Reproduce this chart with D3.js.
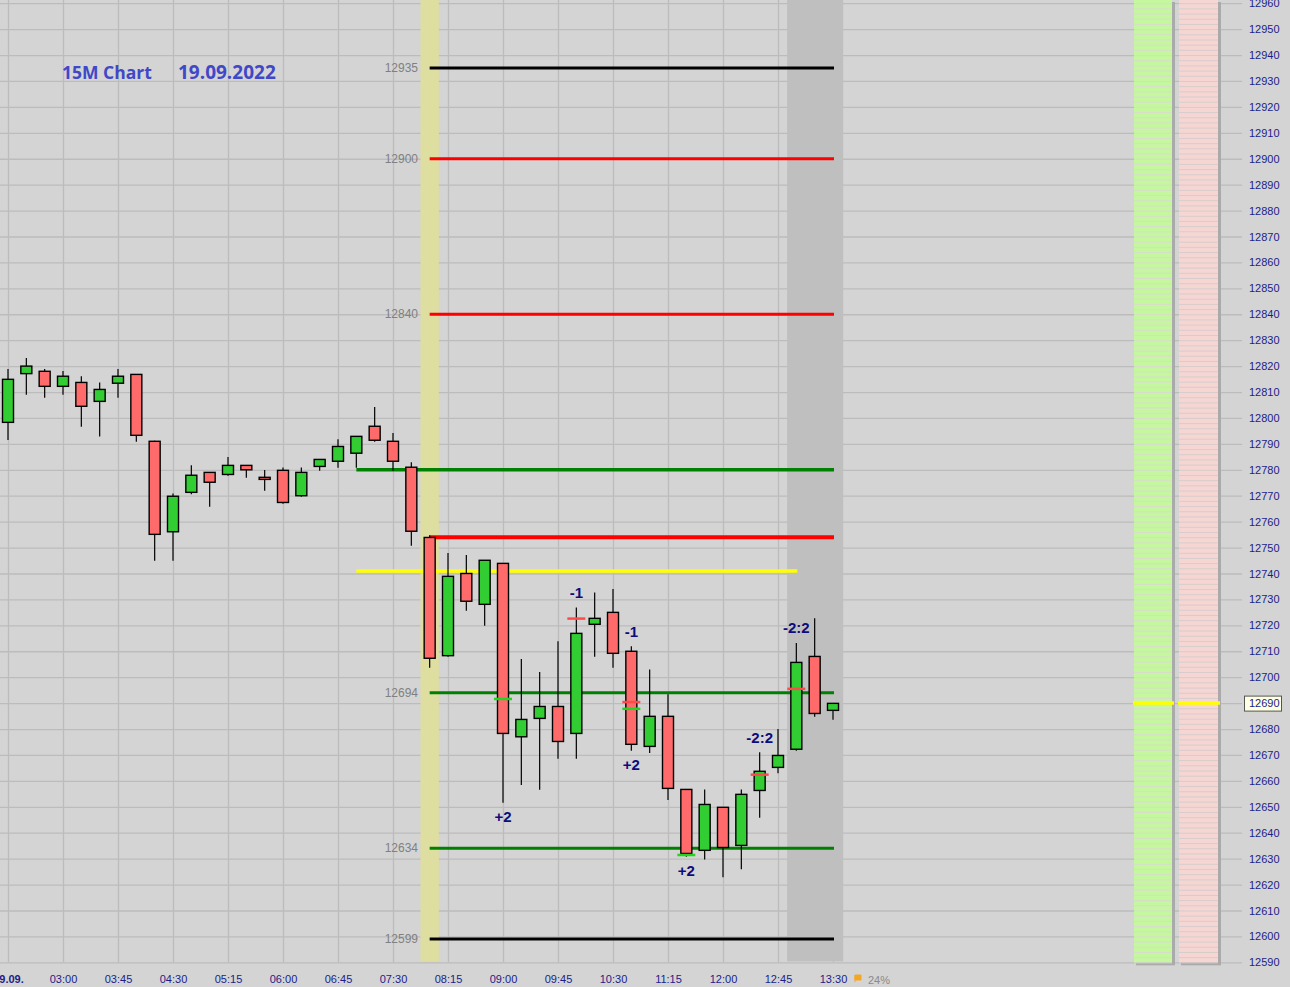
<!DOCTYPE html>
<html>
<head>
<meta charset="utf-8">
<script src="https://cdn.jsdelivr.net/npm/d3@7"></script>
<style>
  body { margin: 0; background: #d4d4d4; }
  svg { display: block; font-family: "Liberation Sans", Arial, sans-serif; }
</style>
</head>
<body>
<svg id="chart" width="1290" height="987"></svg>
<script>
// 15 minute candles, 19.09.2022
const times = ["02:15","02:30","02:45","03:00","03:15","03:30","03:45","04:00","04:15","04:30",
  "04:45","05:00","05:15","05:30","05:45","06:00","06:15","06:30","06:45","07:00",
  "07:15","07:30","07:45","08:00","08:15","08:30","08:45","09:00","09:15","09:30",
  "09:45","10:00","10:15","10:30","10:45","11:00","11:15","11:30","11:45","12:00",
  "12:15","12:30","12:45","13:00","13:15","13:30"];
const opens = [12798.3,12817.1,12818.0,12812.2,12813.7,12806.4,12813.4,12816.8,12791.0,12756.1,
  12771.3,12779.0,12778.2,12781.7,12777.1,12779.8,12770.0,12781.3,12783.3,12786.4,
  12796.8,12791.0,12781.0,12753.9,12708.3,12740.0,12728.1,12743.9,12677.0,12684.1,
  12688.7,12678.3,12720.4,12725.0,12710.0,12673.3,12684.9,12656.7,12633.2,12649.8,
  12635.1,12656.3,12665.2,12672.2,12708.0,12687.2];
const highs = [12818.9,12823.1,12818.9,12818.1,12816.1,12813.7,12818.9,12817.0,12791.2,12770.9,
  12781.8,12779.0,12784.9,12781.7,12779.9,12780.9,12780.9,12784.0,12791.8,12792.9,
  12804.2,12794.2,12782.9,12754.8,12747.9,12747.1,12745.1,12743.9,12707.0,12702.0,
  12713.9,12726.9,12732.7,12734.0,12711.9,12703.0,12693.4,12656.7,12656.7,12649.8,
  12656.7,12671.0,12680.0,12713.2,12722.7,12689.9];
const lows = [12791.5,12809.0,12807.8,12809.0,12796.6,12792.8,12807.8,12790.8,12744.9,12744.9,
  12770.6,12765.7,12777.7,12776.9,12771.9,12766.9,12769.6,12779.6,12780.8,12780.8,
  12790.8,12779.6,12750.7,12703.6,12707.9,12725.6,12719.8,12651.6,12658.4,12656.6,
  12668.5,12668.5,12707.9,12703.6,12671.6,12670.8,12652.6,12630.7,12629.7,12622.8,
  12625.9,12645.8,12662.9,12671.6,12684.7,12683.6];
const closes = [12814.9,12820.0,12812.2,12816.1,12804.5,12811.0,12816.1,12793.3,12755.1,12769.8,
  12777.9,12775.2,12781.7,12780.0,12776.3,12767.4,12779.0,12784.0,12789.0,12792.9,
  12791.4,12783.3,12756.3,12707.3,12738.9,12729.3,12745.1,12678.3,12683.7,12688.7,
  12675.2,12716.9,12722.7,12709.2,12674.1,12684.9,12657.1,12632.0,12650.9,12634.3,
  12654.8,12663.7,12669.8,12705.7,12686.0,12689.9];

// horizontal levels: price, colour, first and last candle, labelled or not
const levelPrices = [12935, 12900, 12840, 12780, 12754, 12741, 12694, 12634, 12599];
const levelColors = ["#000000","#ff0000","#ff0000","#008000","#ff0000","#ffff00","#008000","#008000","#000000"];
const levelFrom   = ["08:00","08:00","08:00","07:00","08:00","07:00","08:00","08:00","08:00"];
const levelTo     = ["13:30","13:30","13:30","13:30","13:30","13:00","13:30","13:30","13:30"];
const levelWidth  = [3, 3, 3, 3.5, 4, 3.5, 3, 3, 3];
const levelLabel  = [true, true, true, false, false, false, true, true, true];

// small entry marks on candles
const markTimes  = ["09:00","10:00","10:45","10:45","11:30","12:30","13:00"];
const markPrices = [12691.6, 12722.6, 12690.4, 12687.8, 12631.4, 12662.4, 12695.5];
const markColors = ["#22d422","#ff4a4a","#ff4a4a","#22d422","#22d422","#ff4a4a","#ff4a4a"];

// signal texts
const noteTimes = ["09:00","10:00","10:45","10:45","11:30","12:30","13:00"];
const noteTexts = ["+2","-1","-1","+2","+2","-2:2","-2:2"];
const noteSides = ["below","above","above","below","below","above","above"];

const priceTicks = [12590,12600,12610,12620,12630,12640,12650,12660,12670,12680,12690,12700,
  12710,12720,12730,12740,12750,12760,12770,12780,12790,12800,12810,12820,12830,12840,
  12850,12860,12870,12880,12890,12900,12910,12920,12930,12940,12950,12960];
const timeTicks = ["02:15","03:00","03:45","04:30","05:15","06:00","06:45","07:30","08:15",
  "09:00","09:45","10:30","11:15","12:00","12:45","13:30"];
const lastPrice = 12690;
const highlightTime = "08:00";
const sessionStart = "13:00";

const svg = d3.select("#chart");
const W = 1290, H = 987;
const x = d3.scalePoint().domain(times).range([8, 833]);
const y = d3.scaleLinear().domain([12599, 12935]).range([939, 68]);
const step = x.step();
const bottom = y(12590);
const axisX = 1242;

svg.append("rect").attr("width", W).attr("height", H).attr("fill", "#d4d4d4");

// horizontal grid
const hg = svg.append("g")
  .attr("transform", `translate(${axisX},0)`)
  .call(d3.axisLeft(y).tickValues(priceTicks).tickSize(axisX).tickFormat(""));
hg.select(".domain").remove();
hg.selectAll("line").attr("stroke", "#bcbcbc").attr("stroke-width", 1.3);

// vertical grid + time labels
const xg = svg.append("g")
  .attr("transform", `translate(0,${bottom})`)
  .call(d3.axisBottom(x).tickValues(timeTicks).tickSizeInner(-bottom).tickSizeOuter(0).tickPadding(13)
    .tickFormat(d => d === "02:15" ? "19.09." : d));
xg.select(".domain").remove();
xg.selectAll("line").attr("stroke", "#bcbcbc").attr("stroke-width", 1.3);
xg.selectAll("text").attr("fill", "#1c1c8a").attr("font-size", 11)
  .attr("font-family", "'Liberation Sans', Arial, sans-serif")
  .attr("font-weight", d => d === "02:15" ? "bold" : null);

// shaded bands
svg.append("rect")
  .attr("x", x(highlightTime) - step / 2).attr("y", 0)
  .attr("width", step).attr("height", bottom - 1)
  .attr("fill", "#dedea0");
svg.append("rect")
  .attr("x", x(sessionStart) - step / 2).attr("y", 0)
  .attr("width", x(times[times.length - 1]) - x(sessionStart) + step + 1).attr("height", bottom - 1)
  .attr("fill", "#bfbfbf");

// levels
const levels = levelPrices.map((p, i) => ({
  price: p, color: levelColors[i], from: levelFrom[i], to: levelTo[i],
  width: levelWidth[i], label: levelLabel[i]
}));
svg.append("g").selectAll("line").data(levels).enter().append("line")
  .attr("x1", d => x(d.from)).attr("x2", d => x(d.to) + 1)
  .attr("y1", d => y(d.price)).attr("y2", d => y(d.price))
  .attr("stroke", d => d.color).attr("stroke-width", d => d.width);
svg.append("g").selectAll("text").data(levels.filter(d => d.label)).enter().append("text")
  .attr("x", 418).attr("y", d => y(d.price))
  .attr("text-anchor", "end").attr("dominant-baseline", "central")
  .attr("font-size", 12).attr("fill", "#808080")
  .text(d => d.price);

// candles
const candles = times.map((t, i) => ({ t, o: opens[i], h: highs[i], l: lows[i], c: closes[i] }));
const cg = svg.append("g");
cg.selectAll(".wick").data(candles).enter().append("line")
  .attr("class", "wick")
  .attr("x1", d => x(d.t)).attr("x2", d => x(d.t))
  .attr("y1", d => y(d.h)).attr("y2", d => y(d.l))
  .attr("stroke", "#000").attr("stroke-width", 1.2);
cg.selectAll(".body").data(candles).enter().append("rect")
  .attr("class", "body")
  .attr("x", d => x(d.t) - 5.5).attr("width", 11)
  .attr("y", d => y(Math.max(d.o, d.c)))
  .attr("height", d => Math.max(1, Math.abs(y(d.o) - y(d.c))))
  .attr("fill", d => d.c >= d.o ? "#32cd32" : "#ff6b6b")
  .attr("stroke", "#000").attr("stroke-width", 1.4);

// marks
const marks = markTimes.map((t, i) => ({ t, p: markPrices[i], color: markColors[i] }));
svg.append("g").selectAll("line").data(marks).enter().append("line")
  .attr("x1", d => x(d.t) - 9).attr("x2", d => x(d.t) + 9)
  .attr("y1", d => y(d.p)).attr("y2", d => y(d.p))
  .attr("stroke", d => d.color).attr("stroke-width", 2.5);

// notes
const notes = noteTimes.map((t, i) => {
  const k = times.indexOf(t);
  return { t, text: noteTexts[i], side: noteSides[i], h: highs[k], l: lows[k] };
});
svg.append("g").selectAll("text").data(notes).enter().append("text")
  .attr("x", d => x(d.t))
  .attr("y", d => d.side === "above" ? y(d.h) - 15 : y(d.l) + 14)
  .attr("text-anchor", "middle").attr("dominant-baseline", "central")
  .attr("font-size", 15).attr("font-weight", "bold").attr("fill", "#0c0c7c")
  .text(d => d.text);

// title
const title = svg.append("g").attr("font-family", "'Open Sans', 'Noto Sans', sans-serif")
  .attr("font-weight", "bold").attr("fill", "#4048c8");
title.append("text").attr("x", 62).attr("y", 79).attr("font-size", 17.5).text("15M Chart");
title.append("text").attr("x", 178).attr("y", 79).attr("font-size", 19).text("19.09.2022");

// right panels
const stripes = d3.range(12590, 12961, 2);
const panels = [
  { x: 1134, w: 38, fill: "#c4f79e", line: "#d9dccd" },
  { x: 1179, w: 39, fill: "#f6d6d3", line: "#d8cccc" }
];
panels.forEach(p => {
  const g = svg.append("g");
  g.append("rect").attr("x", p.x + 2).attr("y", 2).attr("width", p.w + 1).attr("height", bottom + 1)
    .attr("fill", "#aaaaaa");
  g.append("rect").attr("x", p.x).attr("y", 0).attr("width", p.w).attr("height", bottom)
    .attr("fill", p.fill);
  g.selectAll("line").data(stripes).enter().append("line")
    .attr("x1", p.x).attr("x2", p.x + p.w)
    .attr("y1", d => y(d) + 0.5).attr("y2", d => y(d) + 0.5)
    .attr("stroke", p.line).attr("stroke-width", 1);
  g.append("line")
    .attr("x1", p.x - 1).attr("x2", p.x + p.w + 2)
    .attr("y1", y(lastPrice)).attr("y2", y(lastPrice))
    .attr("stroke", "#ffff00").attr("stroke-width", 3.5);
});

// price axis labels
const ya = svg.append("g")
  .attr("transform", `translate(${axisX},0)`)
  .call(d3.axisRight(y).tickValues(priceTicks).tickSize(0).tickPadding(7).tickFormat(d3.format("d")));
ya.select(".domain").remove();
ya.selectAll("text").attr("fill", "#1c1c8a").attr("font-size", 11)
  .attr("font-family", "'Liberation Sans', Arial, sans-serif");
ya.selectAll(".tick").filter(d => d === lastPrice).insert("rect", "text")
  .attr("x", 2.5).attr("y", -7.5).attr("width", 37).attr("height", 15)
  .attr("fill", "#ffffe1").attr("stroke", "#555").attr("stroke-width", 1);

// footer
svg.append("path").attr("d", "M855,975 L861,975 L861,980 L855,980 Z M855,975 L855,982")
  .attr("fill", "#f5a623").attr("stroke", "#f5a623").attr("stroke-width", 1);
svg.append("text").attr("x", 868).attr("y", 984).attr("font-size", 11).attr("fill", "#8a8a8a")
  .text("24%");
</script>
</body>
</html>
